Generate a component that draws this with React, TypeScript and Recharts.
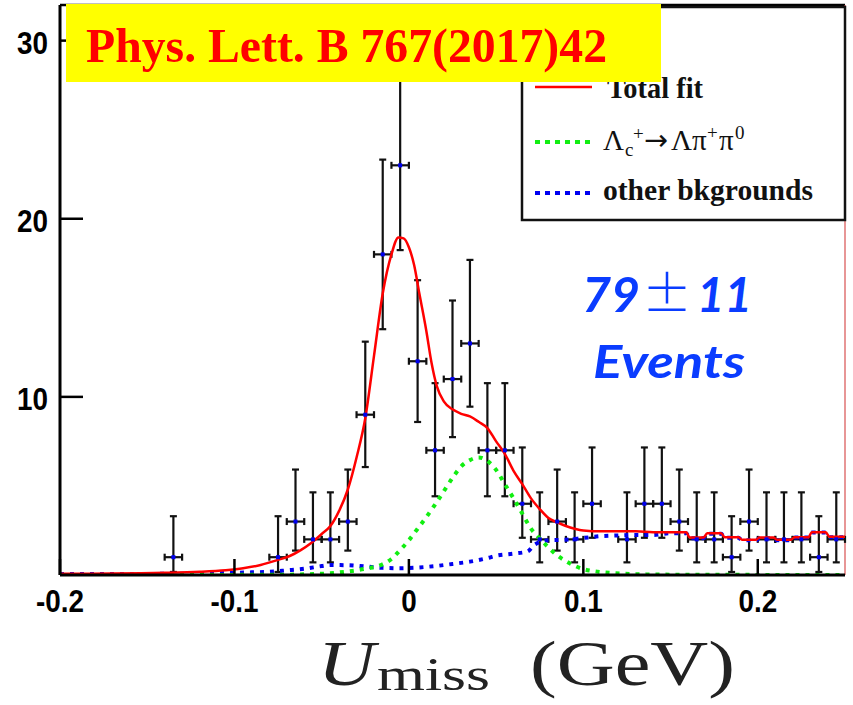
import React from 'react';
import {
  ComposedChart,
  Scatter,
  Line,
  XAxis,
  YAxis,
  ErrorBar,
  ReferenceLine,
} from 'recharts';

// Histogram: bin centres (GeV) of the non-empty bins, entries and Poisson error bars
const binCenters = [
  -0.135, -0.075, -0.065, -0.055, -0.045, -0.035, -0.025, -0.015, -0.005, 0.005,
  0.015, 0.025, 0.035, 0.045, 0.055, 0.065, 0.075, 0.085, 0.095, 0.105,
  0.125, 0.135, 0.145, 0.155, 0.165, 0.175, 0.185, 0.195, 0.205, 0.215,
  0.225, 0.235, 0.245,
];
const binCounts = [
  1, 1, 3, 2, 2, 3, 9, 18, 23, 12,
  7, 11, 13, 7, 7, 4, 2, 3, 2, 4,
  2, 4, 4, 3, 2, 2, 1, 3, 2, 2,
  2, 1, 2,
];
const errDown = [
  0.83, 0.83, 1.63, 1.29, 1.29, 1.63, 2.94, 4.2, 4.76, 3.41,
  2.58, 3.26, 3.55, 2.58, 2.58, 1.91, 1.29, 1.63, 1.29, 1.91,
  1.29, 1.91, 1.91, 1.63, 1.29, 1.29, 0.83, 1.63, 1.29, 1.29,
  1.29, 0.83, 1.29,
];
const errUp = [
  2.3, 2.3, 2.92, 2.64, 2.64, 2.92, 4.1, 5.32, 5.86, 4.55,
  3.77, 4.41, 4.69, 3.77, 3.77, 3.16, 2.64, 2.92, 2.64, 3.16,
  2.64, 3.16, 3.16, 2.92, 2.64, 2.64, 2.3, 2.92, 2.64, 2.64,
  2.64, 2.3, 2.64,
];
const binHalfWidth = 0.005;

// Axis ticks
const xTicks = [-0.2, -0.1, 0, 0.1, 0.2];
const yTicks = [10, 20, 30];

// Total fit
const fitX = [
  -0.2, -0.17, -0.14, -0.12, -0.105, -0.095, -0.085, -0.075, -0.068, -0.062,
  -0.056, -0.05, -0.045, -0.04, -0.035, -0.03, -0.025, -0.02, -0.015, -0.01,
  -0.006, -0.003, 0.0, 0.003, 0.006, 0.01, 0.013, 0.016, 0.02, 0.025,
  0.03, 0.035, 0.04, 0.045, 0.05, 0.055, 0.06, 0.065, 0.07, 0.075,
  0.08, 0.085, 0.09, 0.095, 0.1, 0.11, 0.12, 0.13, 0.14, 0.15,
  0.159, 0.161, 0.169, 0.171, 0.179, 0.181, 0.189, 0.191, 0.199, 0.201,
  0.209, 0.211, 0.219, 0.221, 0.229, 0.231, 0.239, 0.241, 0.25,
];
const fitY = [
  0.07, 0.08, 0.12, 0.18, 0.27, 0.38, 0.56, 0.85, 1.08, 1.4,
  1.8, 2.3, 2.75, 3.6, 4.8, 6.6, 8.8, 12.3, 15.8, 18.0,
  18.95, 18.9, 18.4, 17.4, 15.8, 13.7, 11.9, 10.6, 9.75, 9.3,
  9.05, 8.9, 8.6, 8.25, 7.5, 6.8, 5.85, 5.1, 4.3, 3.7,
  3.2, 2.95, 2.75, 2.6, 2.5, 2.45, 2.45, 2.45, 2.4, 2.4,
  2.4, 2.1, 2.1, 2.35, 2.35, 2.12, 2.12, 1.98, 1.98, 2.1,
  2.1, 1.98, 1.98, 2.12, 2.12, 2.4, 2.4, 2.15, 2.15,
];

// Λc+ → Λπ+π0 component
const sigX = [
  -0.2, -0.08, -0.06, -0.045, -0.035, -0.025, -0.016, -0.01, -0.005, 0.0,
  0.005, 0.01, 0.015, 0.02, 0.025, 0.03, 0.035, 0.04, 0.045, 0.05,
  0.055, 0.06, 0.065, 0.07, 0.075, 0.08, 0.085, 0.09, 0.095, 0.1,
  0.108, 0.118, 0.13, 0.15, 0.25,
];
const sigY = [
  0.0, 0.01, 0.04, 0.1, 0.2, 0.35, 0.56, 0.9, 1.4, 1.95,
  2.6, 3.25, 3.95, 4.7, 5.45, 6.1, 6.45, 6.6, 6.4, 5.9,
  5.1, 4.3, 3.45, 2.6, 2.05, 1.55, 1.1, 0.78, 0.52, 0.33,
  0.19, 0.1, 0.05, 0.02, 0.0,
];

// Other backgrounds
const bkgX = [
  -0.2, -0.15, -0.11, -0.09, -0.08, -0.07, -0.06, -0.05, -0.045, -0.035,
  -0.025, -0.015, -0.005, 0.005, 0.015, 0.025, 0.035, 0.045, 0.05, 0.06,
  0.068, 0.072, 0.08, 0.09, 0.1, 0.11, 0.12, 0.13, 0.14, 0.15,
  0.159, 0.161, 0.169, 0.171, 0.179, 0.181, 0.189, 0.191, 0.199, 0.201,
  0.209, 0.211, 0.219, 0.221, 0.229, 0.231, 0.239, 0.241, 0.25,
];
const bkgY = [
  0.05, 0.06, 0.1, 0.15, 0.18, 0.26, 0.35, 0.5, 0.56, 0.55,
  0.48, 0.4, 0.38, 0.42, 0.5, 0.62, 0.75, 0.95, 1.08, 1.2,
  1.32, 1.7, 1.95, 1.98, 2.08, 2.18, 2.22, 2.25, 2.25, 2.35,
  2.35, 2.07, 2.07, 2.32, 2.32, 2.09, 2.09, 1.95, 1.95, 2.07,
  2.07, 1.95, 1.95, 2.1, 2.1, 2.38, 2.38, 2.12, 2.12,
];

const points = binCenters.map((x, i) => ({
  x,
  y: binCounts[i],
  ey: [errDown[i], errUp[i]],
  ex: binHalfWidth,
}));
const toSeries = (xs: number[], ys: number[]) => xs.map((x, i) => ({ x, y: ys[i] }));
const fitData = toSeries(fitX, fitY);
const sigData = toSeries(sigX, sigY);
const bkgData = toSeries(bkgX, bkgY);

const RED = '#ff0000';
const GREEN = '#11ee11';
const BLUE = '#0000f0';
const TICK_FONT = 'Liberation Sans, Arial, Helvetica, sans-serif';
const SERIF = 'Liberation Serif, Times New Roman, serif';

const XTick = (props: any) => {
  const { x, y, payload } = props;
  return (
    <g>
      <line x1={x} y1={y} x2={x} y2={y - 16} stroke="#000" strokeWidth={2.5} />
      <text
        transform={`translate(${x},${y + 37}) scale(0.87,1)`}
        textAnchor="middle"
        fontFamily={TICK_FONT}
        fontWeight="bold"
        fontSize={32}
        fill="#000"
      >
        {String(payload.value)}
      </text>
    </g>
  );
};

const YTick = (props: any) => {
  const { x, y, payload } = props;
  return (
    <g>
      <line x1={x} y1={y} x2={x + 23} y2={y} stroke="#000" strokeWidth={2.5} />
      <text
        transform={`translate(${x - 12},${y + 13}) scale(0.87,1)`}
        textAnchor="end"
        fontFamily={TICK_FONT}
        fontWeight="bold"
        fontSize={32}
        fill="#000"
      >
        {String(payload.value)}
      </text>
    </g>
  );
};

const Marker = (props: any) => {
  const { cx, cy } = props;
  return <rect x={cx - 2} y={cy - 2} width={4} height={4} fill={BLUE} />;
};

export default function App() {
  return (
    <div style={{ position: 'absolute', left: 0, top: 0, width: 853, height: 705, background: '#fff' }}>
      <ComposedChart
        width={853}
        height={705}
        margin={{ top: 5, right: 8, bottom: 0, left: 0 }}
      >
        <XAxis
          type="number"
          dataKey="x"
          domain={[-0.2, 0.25]}
          ticks={xTicks}
          allowDataOverflow
          height={130}
          tickSize={0}
          tickMargin={0}
          tick={<XTick />}
          axisLine={{ stroke: '#000', strokeWidth: 3 }}
          tickLine={false}
        />
        <YAxis
          type="number"
          dataKey="y"
          domain={[0, 32]}
          ticks={yTicks}
          allowDataOverflow
          width={60}
          tickSize={0}
          tickMargin={0}
          tick={<YTick />}
          axisLine={{ stroke: '#000', strokeWidth: 3 }}
          tickLine={false}
        />
        <ReferenceLine y={32} stroke="#000" strokeWidth={2.5} />
        <ReferenceLine x={0.25} stroke="#d85050" strokeWidth={1.2} />
        <Scatter data={points} dataKey="y" shape={<Marker />} isAnimationActive={false}>
          <ErrorBar dataKey="ey" direction="y" width={3.5} stroke="#111" strokeWidth={2.2} />
          <ErrorBar dataKey="ex" direction="x" width={3.5} stroke="#111" strokeWidth={2.2} />
        </Scatter>
        <Line
          data={bkgData}
          dataKey="y"
          type="monotone"
          dot={false}
          stroke={BLUE}
          strokeWidth={4}
          strokeDasharray="4 6"
          isAnimationActive={false}
        />
        <Line
          data={sigData}
          dataKey="y"
          type="monotone"
          dot={false}
          stroke={GREEN}
          strokeWidth={4}
          strokeDasharray="4 6"
          isAnimationActive={false}
        />
        <Line
          data={fitData}
          dataKey="y"
          type="monotone"
          dot={false}
          stroke={RED}
          strokeWidth={2.5}
          isAnimationActive={false}
        />
      </ComposedChart>

      <svg
        width={853}
        height={705}
        style={{ position: 'absolute', left: 0, top: 0, pointerEvents: 'none' }}
      >
        {/* legend */}
        <rect x={522} y={7} width={323} height={213} fill="#fff" stroke="#111" strokeWidth={2.5} />
        <line x1={535} y1={87} x2={592} y2={87} stroke={RED} strokeWidth={2.5} />
        <text x={607} y={98} fontFamily={SERIF} fontWeight="bold" fontSize={29} fill="#111" textLength={96} lengthAdjust="spacingAndGlyphs">
          Total fit
        </text>
        <line x1={535} y1={142} x2={592} y2={142} stroke={GREEN} strokeWidth={4} strokeDasharray="5 5" />
        <g fontFamily={SERIF} fill="#111">
          <text x={603} y={150} fontSize={29}>Λ</text>
          <text x={625} y={156} fontSize={19}>c</text>
          <text x={633} y={140} fontSize={19}>+</text>
          <text x={644} y={150} fontSize={29} fontFamily="DejaVu Sans, sans-serif" textLength={24} lengthAdjust="spacingAndGlyphs">→</text>
          <text x={671} y={150} fontSize={29}>Λπ</text>
          <text x={707} y={139} fontSize={19}>+</text>
          <text x={719} y={150} fontSize={29}>π</text>
          <text x={735} y={139} fontSize={19}>0</text>
        </g>
        <line x1={535} y1={193} x2={592} y2={193} stroke={BLUE} strokeWidth={4} strokeDasharray="5 5" />
        <text x={603} y={200} fontFamily={SERIF} fontWeight="bold" fontSize={29} fill="#111" textLength={210} lengthAdjust="spacingAndGlyphs">
          other bkgrounds
        </text>

        {/* reference banner */}
        <rect x={66} y={4} width={595} height={78} fill="#ffff00" />
        <text x={86} y={62} fontFamily={SERIF} fontWeight="bold" fontSize={49} fill="#ff0000" textLength={521} lengthAdjust="spacingAndGlyphs">
          Phys. Lett. B 767(2017)42
        </text>

        {/* yield annotation */}
        <g fill="#0a3cff">
          <text x={582} y={312} fontFamily="Lato, Open Sans, sans-serif" fontStyle="italic" fontWeight="bold" fontSize={48} textLength={58} lengthAdjust="spacingAndGlyphs">
            79
          </text>
          <text x={667} y={312} textAnchor="middle" fontFamily="Noto Sans CJK JP, sans-serif" fontWeight={300} fontSize={50}>
            ±
          </text>
          <text x={697} y={312} fontFamily="Lato, Open Sans, sans-serif" fontStyle="italic" fontWeight="bold" fontSize={48} textLength={55} lengthAdjust="spacingAndGlyphs">
            11
          </text>
          <text x={593} y={378} fontFamily="Lato, Open Sans, sans-serif" fontStyle="italic" fontWeight="bold" fontSize={46} textLength={152} lengthAdjust="spacingAndGlyphs">
            Events
          </text>
        </g>

        {/* x-axis title */}
        <g fill="#222" fontFamily={SERIF}>
          <text x={318} y={685} fontStyle="italic" fontSize={64} textLength={57} lengthAdjust="spacingAndGlyphs">
            U
          </text>
          <text x={377} y={690} fontSize={46} textLength={113} lengthAdjust="spacingAndGlyphs">
            miss
          </text>
          <text x={530} y={685} fontSize={64} textLength={205} lengthAdjust="spacingAndGlyphs">
            (GeV)
          </text>
        </g>
      </svg>
    </div>
  );
}
